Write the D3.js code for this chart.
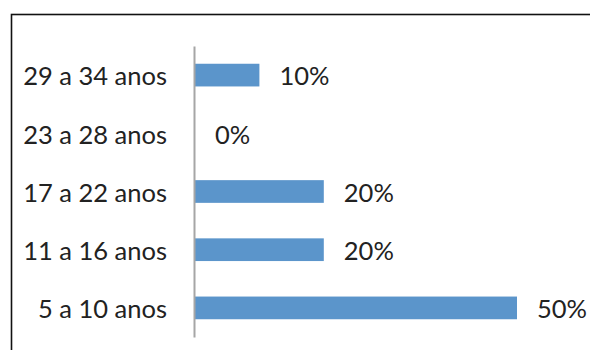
<!DOCTYPE html>
<html>
<head>
  <meta charset="utf-8">
  <title>Faixa etaria</title>
  <style>
    body { margin: 0; background: #fff; }
    text { font-family: Lato, "Open Sans", sans-serif; fill: #222; }
  </style>
</head>
<body>
  <script src="https://d3js.org/d3.v7.min.js"></script>
  <script>
    // categorias (de cima para baixo) e valores em %
    var categories = ["29 a 34 anos", "23 a 28 anos", "17 a 22 anos", "11 a 16 anos", "5 a 10 anos"];
    var values = [10, 0, 20, 20, 50];
    var valueLabels = ["10%", "0%", "20%", "20%", "50%"];

    var width = 590;
    var height = 350;
    var fontSize = 25.5;

    var svg = d3.select("body").append("svg")
      .attr("width", width).attr("height", height);

    // moldura (cortada a direita e embaixo)
    svg.append("rect")
      .attr("x", 11.5).attr("y", 14.5)
      .attr("width", 700).attr("height", 500)
      .attr("fill", "none")
      .attr("stroke", "#111")
      .attr("stroke-width", 1.6);

    var x = d3.scaleLinear().domain([0, 50]).range([195, 517]);
    var y = d3.scaleBand().domain(categories).range([46, 337]).paddingInner(0.61).paddingOuter(0.305);

    var g = svg.append("g");

    g.selectAll(".bar")
      .data(values)
      .enter().append("rect")
      .attr("class", "bar")
      .attr("x", x(0))
      .attr("y", function(d, i) { return y(categories[i]); })
      .attr("width", function(d) { return x(d) - x(0); })
      .attr("height", y.bandwidth())
      .attr("fill", "#5b95cb");

    // eixo vertical
    var yAxis = g.append("g")
      .attr("transform", "translate(" + 194 + ",0)")
      .call(d3.axisLeft(y).tickSize(0).tickPadding(27));
    yAxis.select(".domain").attr("stroke", "#a6a6a6").attr("stroke-width", 2);
    yAxis.selectAll(".tick text")
      .style("font-size", fontSize + "px")
      .attr("dy", "0.4em")
      .attr("fill", "#222");

    g.selectAll(".label")
      .data(values)
      .enter().append("text")
      .attr("class", "label")
      .attr("x", function(d) { return x(d) + 20; })
      .attr("y", function(d, i) { return y(categories[i]) + y.bandwidth() / 2; })
      .attr("dy", "0.4em")
      .style("font-size", fontSize + "px")
      .text(function(d, i) { return valueLabels[i]; });
  </script>
</body>
</html>
